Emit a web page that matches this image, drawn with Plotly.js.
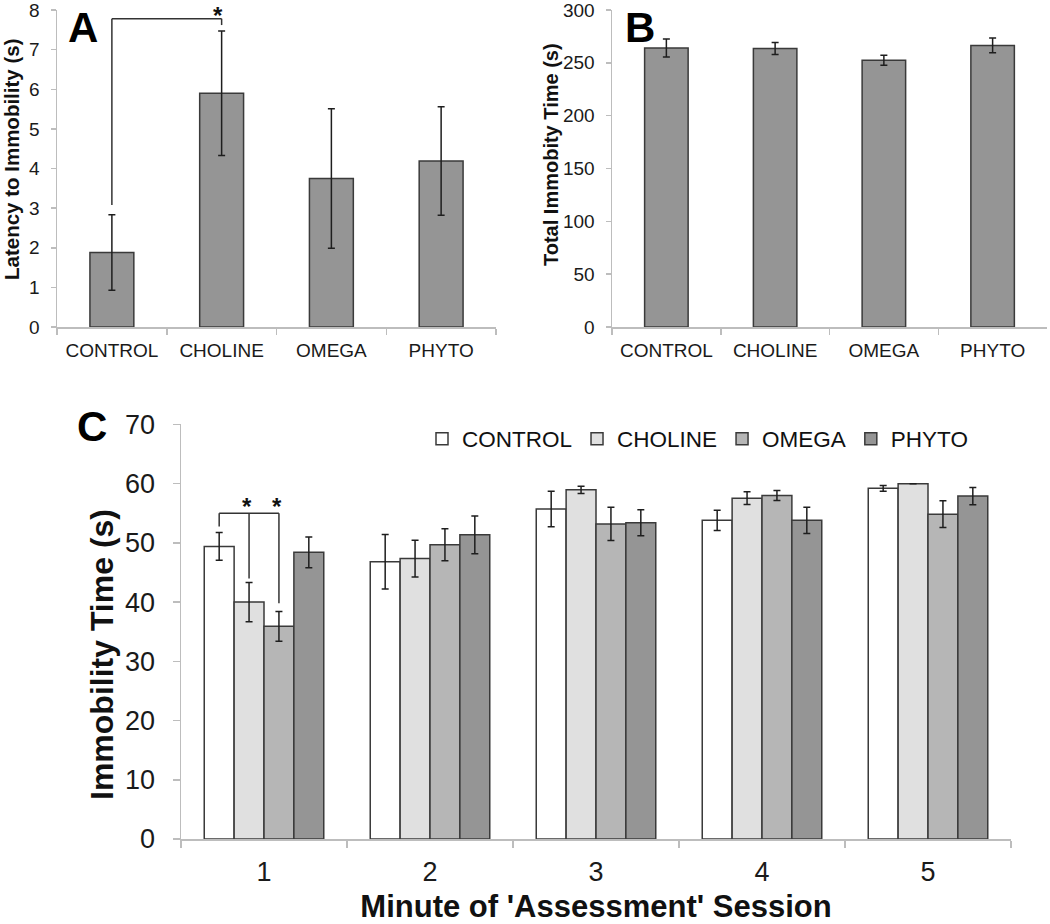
<!DOCTYPE html>
<html>
<head>
<meta charset="utf-8">
<script src="https://cdn.plot.ly/plotly-3.0.1.min.js"></script>
<style>html,body{margin:0;padding:0;background:#fff;}#chart{width:1050px;height:924px;}</style>
</head>
<body>
<div id="chart"></div>
<script>
// ---------- data ----------
const groups = ['CONTROL', 'CHOLINE', 'OMEGA', 'PHYTO'];

// Panel A: latency to immobility (s)
const latencyMean = [1.88, 5.90, 3.75, 4.19];
const latencyErr  = [0.95, 1.57, 1.76, 1.37];

// Panel B: total immobility time (s)
const totalMean = [264.0, 263.5, 252.5, 266.5];
const totalErr  = [8.5, 5.7, 4.7, 7.0];

// Panel C: immobility time per minute (s)
const minutes = ['1', '2', '3', '4', '5'];
const controlC    = [49.4, 46.8, 55.7, 53.8, 59.2];
const controlCErr = [2.35, 4.6, 3.0, 1.7, 0.5];
const cholineC    = [40.0, 47.35, 58.95, 57.55, 60.0];
const cholineCErr = [3.3, 3.1, 0.6, 1.07, 0];
const omegaC      = [35.9, 49.7, 53.2, 58.0, 54.85];
const omegaCErr   = [2.5, 2.7, 2.8, 0.85, 2.25];
const phytoC      = [48.4, 51.35, 53.4, 53.8, 57.9];
const phytoCErr   = [2.6, 3.2, 2.2, 2.2, 1.45];

const titleA = 'Latency to Immobility (s)';
const titleB = 'Total Immobity Time (s)';
const titleCy = 'Immobility Time (s)';
const titleCx = "Minute of 'Assessment' Session";

const seriesC = [
  {name: 'CONTROL', y: controlC, err: controlCErr, color: '#ffffff'},
  {name: 'CHOLINE', y: cholineC, err: cholineCErr, color: '#e0e0e0'},
  {name: 'OMEGA',   y: omegaC,   err: omegaCErr,   color: '#b6b6b6'},
  {name: 'PHYTO',   y: phytoC,   err: phytoCErr,   color: '#959595'}
];

// ---------- styling ----------
const FONT = 'Liberation Sans, Arial, sans-serif';
const AXIS_GRAY = '#bdbdbd';
const OUTLINE = '#3a3a3a';
const ERRC = '#1e1e1e';
const W = 1050, H = 924;
const px = v => v / W;
const py = v => 1 - v / H;

const BARGAP_C = 0.28;

const traces = [];

traces.push({
  type: 'bar', x: groups, y: latencyMean, width: 0.4,
  xaxis: 'x', yaxis: 'y', showlegend: false,
  marker: {color: '#959595', line: {color: OUTLINE, width: 1.5}},
  error_y: {type: 'data', array: latencyErr, visible: true, color: ERRC, thickness: 1.5, width: 3.5},
  hoverinfo: 'none'
});

traces.push({
  type: 'bar', x: groups, y: totalMean, width: 0.4,
  xaxis: 'x2', yaxis: 'y2', showlegend: false,
  marker: {color: '#959595', line: {color: OUTLINE, width: 1.5}},
  error_y: {type: 'data', array: totalErr, visible: true, color: ERRC, thickness: 1.5, width: 3.5},
  hoverinfo: 'none'
});

seriesC.forEach(s => {
  traces.push({
    type: 'bar', name: s.name, x: minutes, y: s.y,
    xaxis: 'x3', yaxis: 'y3',
    marker: {color: s.color, line: {color: OUTLINE, width: 1.5}},
    error_y: {type: 'data', array: s.err, visible: true, color: ERRC, thickness: 1.5, width: 3.5},
    hoverinfo: 'none'
  });
});

const tickFontAB = {family: FONT, size: 19, color: '#1a1a1a'};
const tickFontC = {family: FONT, size: 27, color: '#1a1a1a'};

function xCat(domain, anchor, fontObj, standoff, ticklen) {
  return {
    domain: domain, anchor: anchor, type: 'category',
    showline: true, linecolor: AXIS_GRAY, linewidth: 1.5,
    ticks: 'outside', tickson: 'boundaries', ticklen: ticklen, tickcolor: AXIS_GRAY, tickwidth: 1.5,
    tickfont: fontObj, ticklabelstandoff: standoff, ticklabeloverflow: 'allow',
    showgrid: false, zeroline: false, automargin: false, fixedrange: true
  };
}
function yLin(domain, anchor, range, dtick, fontObj, standoff, ticklen) {
  return {
    domain: domain, anchor: anchor, range: range, dtick: dtick, tick0: 0,
    showline: true, linecolor: AXIS_GRAY, linewidth: 1.5,
    ticks: 'outside', ticklen: ticklen, tickcolor: AXIS_GRAY, tickwidth: 1.5,
    tickfont: fontObj, ticklabelstandoff: standoff, ticklabeloverflow: 'allow',
    showgrid: false, zeroline: false, automargin: false, fixedrange: true
  };
}

const xa = xCat([px(57), px(496)], 'y', tickFontAB, 6, 6); xa.range = [-0.5, 3.5];
const xb = xCat([px(612), px(1047)], 'y2', tickFontAB, 6, 6); xb.range = [-0.5, 3.5];
const xc = xCat([px(181), px(1011)], 'y3', tickFontC, 8, 7); xc.range = [-0.5, 4.5];
xc.title = {text: titleCx, font: {family: FONT, size: 31, color: '#111', weight: 'bold'}, standoff: 10};

const ya = yLin([py(327), py(10)], 'x', [0, 8], 1, tickFontAB, 7, 5);
const yb = yLin([py(327), py(10)], 'x2', [0, 300], 50, tickFontAB, 7, 5);
const yc = yLin([py(839), py(424.4)], 'x3', [0, 70], 10, tickFontC, 12, 7);

// significance brackets
const nC = seriesC.length;
const barW = (1 - BARGAP_C) / nC;
const offC = i => -((1 - BARGAP_C) / 2) + barW * (i + 0.5);
const line = {color: '#333', width: 1.5};
const shapes = [
  // Panel A: CONTROL vs CHOLINE
  {type: 'line', xref: 'x', yref: 'y', x0: 0, x1: 0, y0: 3.08, y1: 7.78, line: line},
  {type: 'line', xref: 'x', yref: 'y', x0: 0, x1: 1, y0: 7.78, y1: 7.78, line: line},
  {type: 'line', xref: 'x', yref: 'y', x0: 1, x1: 1, y0: 7.78, y1: 7.62, line: line},
  // Panel C minute 1: CONTROL vs CHOLINE / OMEGA
  {type: 'line', xref: 'x3', yref: 'y3', x0: offC(0), x1: offC(0), y0: 52.75, y1: 55.0, line: line},
  {type: 'line', xref: 'x3', yref: 'y3', x0: offC(0), x1: offC(2), y0: 55.0, y1: 55.0, line: line},
  {type: 'line', xref: 'x3', yref: 'y3', x0: offC(1), x1: offC(1), y0: 55.0, y1: 44.0, line: line},
  {type: 'line', xref: 'x3', yref: 'y3', x0: offC(2), x1: offC(2), y0: 55.0, y1: 39.8, line: line}
];

const starFont = {family: FONT, size: 24, color: '#111', weight: 'bold'};
const boldTitle = size => ({family: FONT, size: size, color: '#111', weight: 'bold'});
const annotations = [
  {text: '<b>A</b>', xref: 'paper', yref: 'paper', x: px(83), y: py(27), xanchor: 'center', yanchor: 'middle', showarrow: false, font: {family: FONT, size: 42, color: '#000'}},
  {text: '<b>B</b>', xref: 'paper', yref: 'paper', x: px(640), y: py(27), xanchor: 'center', yanchor: 'middle', showarrow: false, font: {family: FONT, size: 42, color: '#000'}},
  {text: '<b>C</b>', xref: 'paper', yref: 'paper', x: px(92), y: py(426), xanchor: 'center', yanchor: 'middle', showarrow: false, font: {family: FONT, size: 42, color: '#000'}},
  // y-axis titles
  {text: titleA, xref: 'paper', yref: 'paper', x: px(11), y: py(160), xanchor: 'center', yanchor: 'middle', textangle: -90, showarrow: false, font: boldTitle(20.5)},
  {text: titleB, xref: 'paper', yref: 'paper', x: px(551), y: py(155), xanchor: 'center', yanchor: 'middle', textangle: -90, showarrow: false, font: boldTitle(20)},
  {text: titleCy, xref: 'paper', yref: 'paper', x: px(102), y: py(655), xanchor: 'center', yanchor: 'middle', textangle: -90, showarrow: false, font: boldTitle(32)},
  // significance stars
  {text: '*', xref: 'x', yref: 'paper', x: 0.97, y: 1, xanchor: 'center', yanchor: 'top', showarrow: false, font: starFont},
  {text: '*', xref: 'x3', yref: 'y3', x: offC(1) - 0.01, y: 56.2, xanchor: 'center', yanchor: 'middle', showarrow: false, font: starFont},
  {text: '*', xref: 'x3', yref: 'y3', x: offC(2) - 0.01, y: 56.2, xanchor: 'center', yanchor: 'middle', showarrow: false, font: starFont}
];

const layout = {
  width: W, height: H,
  margin: {l: 0, r: 0, t: 0, b: 0, pad: 0},
  paper_bgcolor: '#fff', plot_bgcolor: '#fff',
  font: {family: FONT, color: '#1a1a1a'},
  barmode: 'group', bargap: BARGAP_C, bargroupgap: 0,
  xaxis: xa, yaxis: ya,
  xaxis2: xb, yaxis2: yb,
  xaxis3: xc, yaxis3: yc,
  showlegend: true,
  legend: {
    orientation: 'h', x: px(422), y: py(439), xanchor: 'left', yanchor: 'middle',
    font: {family: FONT, size: 22.5, color: '#111'}, bgcolor: 'rgba(0,0,0,0)',
    traceorder: 'normal', itemclick: false, itemdoubleclick: false
  },
  shapes: shapes,
  annotations: annotations,
  hovermode: false
};

Plotly.newPlot('chart', traces, layout, {displayModeBar: false, staticPlot: true});
</script>
</body>
</html>
